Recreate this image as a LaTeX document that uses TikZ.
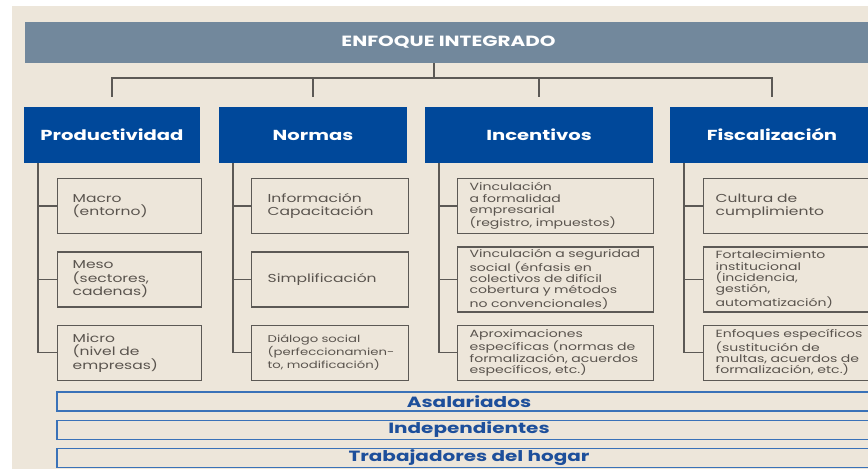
\documentclass[tikz,border=0pt]{standalone}
\usepackage{fontspec}
\setmainfont[FakeStretch=1.35]{Poppins}
\usetikzlibrary{positioning}
\definecolor{bgbeige}{HTML}{EDE6DA}
\definecolor{topgrey}{HTML}{72889C}
\definecolor{catblue}{HTML}{00489A}
\definecolor{linegrey}{HTML}{5C5955}
\definecolor{itemtext}{HTML}{5A544E}
\definecolor{barblue}{HTML}{3A72B8}
\definecolor{bartext}{HTML}{1D4F9B}

\begin{document}
\begin{tikzpicture}[ % one unit is one pixel of the page
        x=1pt, y=-1pt,
        topbar/.style={rectangle, fill=topgrey, text=white, inner sep=0pt,
            minimum width=847pt, minimum height=41pt,
            font=\bfseries\fontsize{14.8}{16}\selectfont}, % Heading bar
        catbox/.style={rectangle, fill=catblue, text=white, inner sep=0pt,
            minimum height=56pt, font=\bfseries\fontsize{14.5}{16}\selectfont}, % Blue category boxes
        itembox/.style={rectangle, draw=linegrey, line width=1.3pt, text=itemtext,
            align=left, inner ysep=0pt, minimum height=55pt}, % Grey framed items
        bigtext/.style={font=\fontsize{11.5}{13.5}\selectfont},
        smalltext/.style={font=\fontsize{10.4}{11.3}\selectfont},
        colA/.style={itembox, inner xsep=15pt, text width=114pt},
        colB/.style={itembox, inner xsep=16pt, text width=125pt},
        colC/.style={itembox, inner xsep=12pt, text width=172pt},
        colD/.style={itembox, inner xsep=12pt, text width=172pt},
        groupbar/.style={rectangle, draw=barblue, line width=1.3pt, fill=bgbeige, text=bartext,
            inner sep=0pt, minimum width=824pt, minimum height=19pt,
            font=\bfseries\fontsize{14.8}{15}\selectfont}, % Bottom bars
        tree/.style={draw=linegrey, line width=1.4pt} % Connectors
    ]
    % --- Page and background ---
    \useasboundingbox (0,0) rectangle (868,469);
    \fill[white] (0,0) rectangle (868,469);
    \fill[bgbeige] (12,6) rectangle (868,469);
    % --- Heading and categories ---
    \node (enfo) [topbar] at (448.5,42.5) {ENFOQUE INTEGRADO};
    \node (prod) [catbox, minimum width=176pt] at (112,135) {Productividad};
    \node (norm) [catbox, minimum width=188pt] at (313,135) {Normas};
    \node (ince) [catbox, minimum width=228pt] at (539,135) {Incentivos};
    \node (fisc) [catbox, minimum width=204pt] at (772,135) {Fiscalización};
    % --- Items under each category ---
    \node (p1) [colA, bigtext, anchor=north west] at (57,178) {Macro\\(entorno)};
    \node (p2) [colA, bigtext, below=17pt of p1] {Meso\\(sectores,\\cadenas)};
    \node (p3) [colA, bigtext, below=17pt of p2] {Micro\\(nivel de\\empresas)};
    \node (n1) [colB, bigtext, anchor=north west] at (251,178) {Información\\Capacitación};
    \node (n2) [colB, bigtext, below=17pt of n1] {Simplificación};
    \node (n3) [colB, font=\fontsize{9.8}{10.8}\selectfont, below=17pt of n2] {Diálogo social\\(perfeccionamien\mbox{-}\\to, modificación)};
    \node (c1) [colC, smalltext, anchor=north west] at (457,178) {Vinculación\\a formalidad\\empresarial\\(registro, impuestos)};
    \node (c2) [colC, smalltext, minimum height=65pt, below=12pt of c1] {Vinculación a seguridad\\social (énfasis en\\colectivos de difícil\\cobertura y métodos\\no convencionales)};
    \node (c3) [colC, smalltext, below=12pt of c2] {Aproximaciones\\específicas (normas de\\formalización, acuerdos\\específicos, etc.)};
    \node (f1) [colD, bigtext, anchor=north west] at (703,178) {Cultura de\\cumplimiento};
    \node (f2) [colD, smalltext, minimum height=65pt, below=12pt of f1] {Fortalecimiento\\institucional\\(incidencia,\\gestión,\\automatización)};
    \node (f3) [colD, smalltext, below=12pt of f2] {Enfoques específicos\\(sustitución de\\multas, acuerdos de\\formalización, etc.)};
    % --- Worker groups ---
    \node (asal) [groupbar] at (469,401.5) {Asalariados};
    \node (inde) [groupbar, below=8pt of asal] {Independientes};
    \node (trab) [groupbar, below=8pt of inde] {Trabajadores del hogar};
    % --- Connectors ---
    \coordinate (hub) at (434,78);
    \draw[tree] (enfo.south -| hub) -- (hub);
    \foreach \c in {prod,norm,ince,fisc}
        \draw[tree, shorten >=10pt] (hub) -| (\c.north);
    \foreach \c/\i in {prod/p,norm/n,ince/c,fisc/f} {
        \coordinate (\c-t) at ([xshift=14pt]\c.south west);
        \draw[tree] (\c-t) |- (\i3.west);
        \draw[tree] (\c-t |- \i1.west) -- (\i1.west);
        \draw[tree] (\c-t |- \i2.west) -- (\i2.west);
    }
\end{tikzpicture}
\end{document}
